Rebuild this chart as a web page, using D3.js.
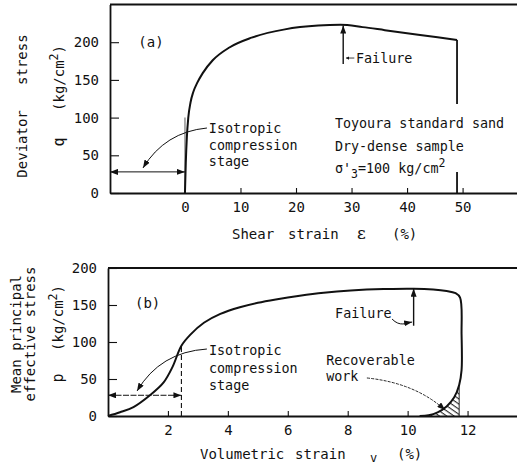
<!DOCTYPE html>
<html><head><meta charset="utf-8">
<script src="https://cdn.jsdelivr.net/npm/d3@7"></script>
<style>
html,body{margin:0;padding:0;background:#fff;}
svg{display:block;font-family:"DejaVu Sans Mono",monospace;fill:#111;}
</style></head><body>
<svg id="chart" width="517" height="466"></svg>
<script>
// ---- Panel (a): deviator stress q vs shear strain ε ----
const shearStrain    = [0, 0.15, 0.35, 0.6, 1.0, 1.5, 2.2, 3.2, 5, 8, 12, 18, 24, 28, 32, 36, 42, 49];
const deviatorStress = [0, 40, 75, 100, 120, 134, 146, 159, 176, 193, 206, 217, 222, 223, 220, 216, 210, 203];
const failureStrainA = 49;
const failureDropA   = [[203, 118], [28, 0]];   // q ranges of the vertical drop at failure
const shearTicks     = [0, 10, 20, 30, 40, 50];
const stressTicks    = [0, 50, 100, 150, 200];

// ---- Panel (b): mean principal effective stress p vs volumetric strain v ----
const volStrain  = [0, 0.4, 0.85, 1.4, 1.85, 2.15, 2.45, 2.75, 3.2, 3.75, 4.4, 5.0, 5.6, 6.4, 7.2, 8.1, 9.2, 10.2, 11.3, 11.6, 11.75, 11.8, 11.8, 11.72, 11.55, 11.3, 11.0, 10.7, 10.4];
const meanStress = [0, 5, 12, 28, 45, 66, 95, 110, 126, 138, 147, 153, 157.5, 162.5, 166.5, 169.5, 171.5, 172, 169, 166, 160, 110, 62, 42, 25, 13, 5, 1, 0];
const isoEndStrainB = 2.45;
const isoEndStressB = 95;
const recoverEdge   = 11.72;
const volTicks      = [2, 4, 6, 8, 10, 12];
const pTicks        = [0, 50, 100, 150, 200];

const svg = d3.select("#chart");
const ink = "#111";
const FONT = 13.4;

// arrowhead marker and hatch fill
const defs = svg.append("defs");
defs.append("marker").attr("id", "arr")
  .attr("viewBox", "0 0 8 6").attr("refX", 8).attr("refY", 3)
  .attr("markerWidth", 8).attr("markerHeight", 6)
  .attr("markerUnits", "userSpaceOnUse").attr("orient", "auto-start-reverse")
  .append("path").attr("d", "M0,0 L8,3 L0,6 Z").attr("fill", ink);
defs.append("pattern").attr("id", "hatch")
  .attr("patternUnits", "userSpaceOnUse").attr("width", 4.2).attr("height", 4.2)
  .attr("patternTransform", "rotate(35)")
  .append("path").attr("d", "M0,0.6 H4.2").attr("stroke", ink).attr("stroke-width", 1);

function text(g, x, y, s, size, anchor) {
  return g.append("text").attr("x", x).attr("y", y)
    .attr("font-size", size || FONT).attr("text-anchor", anchor || "start")
    .attr("fill", ink).text(s);
}
function styleAxis(g) {
  g.selectAll(".domain").attr("stroke", ink).attr("stroke-width", 1.8);
  g.selectAll(".tick line").attr("stroke", ink).attr("stroke-width", 1.1);
  g.selectAll(".tick text").attr("font-size", 14).attr("fill", ink)
    .attr("font-family", "DejaVu Sans Mono");
}

// ================= Panel (a) =================
const xA = d3.scaleLinear().domain([-13.5, 59.8]).range([110, 517]);
const yA = d3.scaleLinear().domain([0, 250]).range([193, 4.5]);
const gA = svg.append("g");

// top border
gA.append("line").attr("x1", xA.range()[0]).attr("x2", 517)
  .attr("y1", yA(250)).attr("y2", yA(250)).attr("stroke", ink).attr("stroke-width", 1.8);

gA.append("g").attr("transform", `translate(0,${yA(0)})`)
  .call(d3.axisBottom(xA).tickValues(shearTicks).tickSizeInner(-5).tickSizeOuter(0).tickPadding(9))
  .call(styleAxis);
gA.append("g").attr("transform", `translate(${xA.range()[0]},0)`)
  .call(d3.axisLeft(yA).tickValues(stressTicks).tickSizeInner(-9).tickSizeOuter(0).tickPadding(11))
  .call(styleAxis);

// grey guide at ε = 0
gA.append("line").attr("x1", xA(0)).attr("x2", xA(0)).attr("y1", yA(0)).attr("y2", yA(100))
  .attr("stroke", "#999").attr("stroke-width", 1.6);

const lineA = d3.line().x((d, i) => xA(shearStrain[i])).y((d, i) => yA(deviatorStress[i]))
  .curve(d3.curveMonotoneX);
gA.append("path").attr("d", lineA(shearStrain)).attr("fill", "none")
  .attr("stroke", ink).attr("stroke-width", 2);
failureDropA.forEach(r => {
  gA.append("line").attr("x1", xA(failureStrainA)).attr("x2", xA(failureStrainA))
    .attr("y1", yA(r[0])).attr("y2", yA(r[1])).attr("stroke", ink).attr("stroke-width", 1.8);
});

// isotropic compression stage span
gA.append("line").attr("x1", xA(-13.5)).attr("x2", xA(0)).attr("y1", yA(28)).attr("y2", yA(28))
  .attr("stroke", ink).attr("stroke-width", 1)
  .attr("marker-start", "url(#arr)").attr("marker-end", "url(#arr)");
gA.append("path")
  .attr("d", `M${xA(3.96)},${yA(86.2)} Q${xA(-3.6)},${yA(80.9)} ${xA(-7.56)},${yA(33.2)}`)
  .attr("fill", "none").attr("stroke", ink).attr("stroke-width", 1).attr("marker-end", "url(#arr)");
text(gA, xA(4.3), yA(79.6), "Isotropic");
text(gA, xA(4.3), yA(57), "compression");
text(gA, xA(4.3), yA(35.8), "stage");

// failure marker
gA.append("line").attr("x1", xA(28.5)).attr("x2", xA(28.5)).attr("y1", yA(171)).attr("y2", yA(222))
  .attr("stroke", ink).attr("stroke-width", 1.4).attr("marker-end", "url(#arr)");
gA.append("line").attr("x1", xA(30.5)).attr("x2", xA(29.0)).attr("y1", yA(179)).attr("y2", yA(179))
  .attr("stroke", ink).attr("stroke-width", 0.8);
gA.append("path").attr("d", `M${xA(29.0)},${yA(179)} l3,-1.6 v3.2 Z`).attr("fill", ink);
text(gA, xA(30.8), yA(172.4), "Failure");

text(gA, xA(-8.4), yA(193.6), "(a)", 14);
text(gA, xA(27), yA(86.2), "Toyoura standard sand");
text(gA, xA(27), yA(55.7), "Dry-dense sample");
const sig = text(gA, xA(27), yA(26.5), "σ'");
sig.append("tspan").attr("dy", 5).attr("font-size", 11.5).text("3");
sig.append("tspan").attr("dy", -5).text("=100 kg/cm");
sig.append("tspan").attr("dy", -6).attr("font-size", 11.5).text("2");

// axis titles (a)
const tA = svg.append("text").attr("y", 239).attr("font-size", 14).attr("fill", ink);
tA.append("tspan").attr("x", 232).text("Shear");
tA.append("tspan").attr("x", 288).text("strain");
tA.append("tspan").attr("x", 357).attr("font-size", 17).attr("font-family", "DejaVu Serif").text("ε");
tA.append("tspan").attr("x", 392).text("(%)");

svg.append("text").attr("transform", "translate(27,106) rotate(-90)")
  .attr("text-anchor", "middle").attr("font-size", 14).attr("fill", ink)
  .attr("xml:space", "preserve").text("Deviator   stress");
const kgA = svg.append("text").attr("transform", "translate(64,78) rotate(-90)")
  .attr("text-anchor", "middle").attr("font-size", 14).attr("fill", ink);
kgA.append("tspan").text("(kg/cm");
kgA.append("tspan").attr("dy", -6).attr("font-size", 11.5).text("2");
kgA.append("tspan").attr("dy", 6).text(")");
svg.append("text").attr("transform", "translate(64,142) rotate(-90)")
  .attr("text-anchor", "middle").attr("font-size", 15).attr("fill", ink).text("q");

// ================= Panel (b) =================
const xB = d3.scaleLinear().domain([0, 13.65]).range([108, 517]);
const yB = d3.scaleLinear().domain([0, 200]).range([416, 268]);
const gB = svg.append("g");

gB.append("line").attr("x1", xB(0)).attr("x2", 517).attr("y1", yB(200)).attr("y2", yB(200))
  .attr("stroke", ink).attr("stroke-width", 1.8);
gB.append("g").attr("transform", `translate(0,${yB(0)})`)
  .call(d3.axisBottom(xB).tickValues(volTicks).tickSizeInner(-5).tickSizeOuter(0).tickPadding(9))
  .call(styleAxis);
gB.append("g").attr("transform", `translate(${xB(0)},0)`)
  .call(d3.axisLeft(yB).tickValues(pTicks).tickSizeInner(-9).tickSizeOuter(0).tickPadding(11))
  .call(styleAxis);

// recoverable work (hatched area right of the unloading branch)
const lineB = d3.line().x((d, i) => xB(volStrain[i])).y((d, i) => yB(meanStress[i]))
  .curve(d3.curveCatmullRom.alpha(0.5));
const unloadIdx = d3.range(volStrain.length).filter(i => i > 20 && volStrain[i] <= recoverEdge && meanStress[i] < 60);
const unloadPts = unloadIdx.map(i => [xB(volStrain[i]), yB(meanStress[i])]);
const unloadPath = d3.line().curve(d3.curveCatmullRom.alpha(0.5))(unloadPts);
gB.append("path")
  .attr("d", unloadPath + ` L${xB(recoverEdge)},${yB(0)} Z`)
  .attr("fill", "url(#hatch)");
gB.append("line").attr("x1", xB(recoverEdge)).attr("x2", xB(recoverEdge))
  .attr("y1", yB(0)).attr("y2", yB(meanStress[unloadIdx[0]])).attr("stroke", ink).attr("stroke-width", 0.9);

gB.append("path").attr("d", lineB(volStrain)).attr("fill", "none")
  .attr("stroke", ink).attr("stroke-width", 2);

// isotropic compression stage
gB.append("line").attr("x1", xB(isoEndStrainB)).attr("x2", xB(isoEndStrainB))
  .attr("y1", yB(0)).attr("y2", yB(isoEndStressB)).attr("stroke", ink)
  .attr("stroke-width", 1.1).attr("stroke-dasharray", "5,3");
gB.append("line").attr("x1", xB(0)).attr("x2", xB(isoEndStrainB)).attr("y1", yB(28)).attr("y2", yB(28))
  .attr("stroke", ink).attr("stroke-width", 1).attr("stroke-dasharray", "6,1.5")
  .attr("marker-start", "url(#arr)").attr("marker-end", "url(#arr)");
gB.append("path")
  .attr("d", `M${xB(3.3)},${yB(90.5)} Q${xB(1.74)},${yB(86.5)} ${xB(0.97)},${yB(33.8)}`)
  .attr("fill", "none").attr("stroke", ink).attr("stroke-width", 1).attr("marker-end", "url(#arr)");
text(gB, xB(3.37), yB(82.4), "Isotropic");
text(gB, xB(3.37), yB(58), "compression");
text(gB, xB(3.37), yB(35), "stage");

// failure marker
gB.append("line").attr("x1", xB(10.2)).attr("x2", xB(10.2)).attr("y1", yB(122)).attr("y2", yB(172))
  .attr("stroke", ink).attr("stroke-width", 1.4).attr("marker-end", "url(#arr)");
text(gB, xB(7.58), yB(132.4), "Failure");
gB.append("path")
  .attr("d", `M${xB(9.48)},${yB(131)} C${xB(9.75)},${yB(120)} ${xB(9.95)},${yB(125.7)} ${xB(10.15)},${yB(127)}`)
  .attr("fill", "none").attr("stroke", ink).attr("stroke-width", 1).attr("marker-end", "url(#arr)");

// recoverable work label
text(gB, xB(7.28), yB(69), "Recoverable");
text(gB, xB(7.28), yB(47.3), "work");
gB.append("path")
  .attr("d", `M${xB(8.64)},${yB(51.4)} Q${xB(10.25)},${yB(44.6)} ${xB(11.25)},${yB(8.1)}`)
  .attr("fill", "none").attr("stroke", ink).attr("stroke-width", 0.9)
  .attr("stroke-dasharray", "3,1.2").attr("marker-end", "url(#arr)");

text(gB, xB(0.9), yB(146), "(b)", 14);

// axis titles (b)
const tB = svg.append("text").attr("y", 459).attr("font-size", 14).attr("fill", ink);
tB.append("tspan").attr("x", 200).text("Volumetric");
tB.append("tspan").attr("x", 295).text("strain");
tB.append("tspan").attr("x", 370).attr("dy", 3).attr("font-size", 12).text("v");
tB.append("tspan").attr("x", 397).attr("dy", -3).text("(%)");

svg.append("text").attr("transform", "translate(21,334) rotate(-90)")
  .attr("text-anchor", "middle").attr("font-size", 14).attr("fill", ink).text("Mean principal");
svg.append("text").attr("transform", "translate(35,334) rotate(-90)")
  .attr("text-anchor", "middle").attr("font-size", 14).attr("fill", ink).text("effective stress");
const kgB = svg.append("text").attr("transform", "translate(63,318) rotate(-90)")
  .attr("text-anchor", "middle").attr("font-size", 14).attr("fill", ink);
kgB.append("tspan").text("(kg/cm");
kgB.append("tspan").attr("dy", -6).attr("font-size", 11.5).text("2");
kgB.append("tspan").attr("dy", 6).text(")");
svg.append("text").attr("transform", "translate(63,378) rotate(-90)")
  .attr("text-anchor", "middle").attr("font-size", 15).attr("fill", ink).text("p");
</script>
</body></html>
